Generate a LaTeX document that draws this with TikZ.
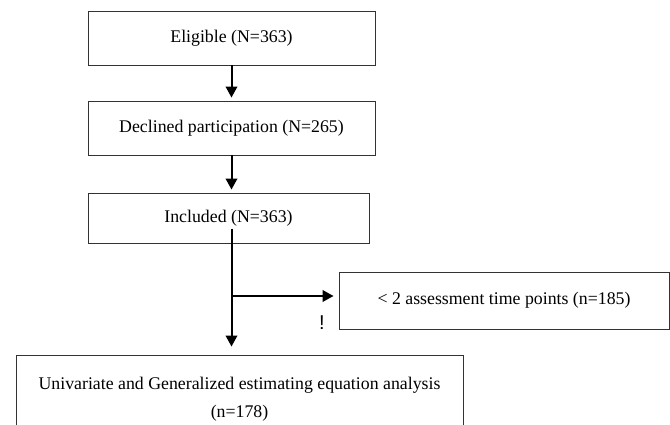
\documentclass[tikz,border=0pt]{standalone}
\usepackage{fontspec}
\setmainfont{Liberation Serif}
\newfontfamily\marksans{Liberation Sans}
\usetikzlibrary{arrows.meta}

\begin{document}
\begin{tikzpicture}[x=1pt,y=-1pt,
  box/.style={draw=black!80,line width=0.9pt,inner sep=0pt,align=center,
    font=\fontsize{17.8}{28}\selectfont},
  arr/.style={line width=2pt,-{Triangle[length=11pt,width=11.5pt]}},
  ]
\useasboundingbox (0,0) rectangle (670,425);
\def\xa{231.5}
\def\xb{228.5}
\node[box,minimum width=287pt,minimum height=54pt] (elig) at (\xa,38){Eligible (N=363)};
\node[box,minimum width=287pt,minimum height=54pt] (decl) at (\xa,128){Declined participation (N=265)};
\node[box,minimum width=281pt,minimum height=50pt] (incl) at (\xb,218){Included (N=363)};
\node[box,minimum width=330pt,minimum height=57pt] (excl) at (504,300.5){< 2 assessment time points (n=185)};
\node[box,minimum width=447pt,minimum height=89pt] (anal) at (239.5,399.5){Univariate and Generalized estimating equation analysis\\(n=178)};
\node[font=\marksans\fontsize{20}{20}\selectfont] (mark) at (322,323){!};
\coordinate (start) at (\xa,229);
\coordinate (fork) at (\xa,296);
\draw[arr,shorten >=3pt] (elig.south) -- (decl.north);
\draw[arr,shorten >=3pt] (decl.south) -- (decl.south |- incl.north);
\draw[arr,shorten >=8pt] (start) -- (start |- anal.north);
\draw[arr,shorten >=5pt] (fork) -- (fork -| excl.west);
\end{tikzpicture}
\end{document}
